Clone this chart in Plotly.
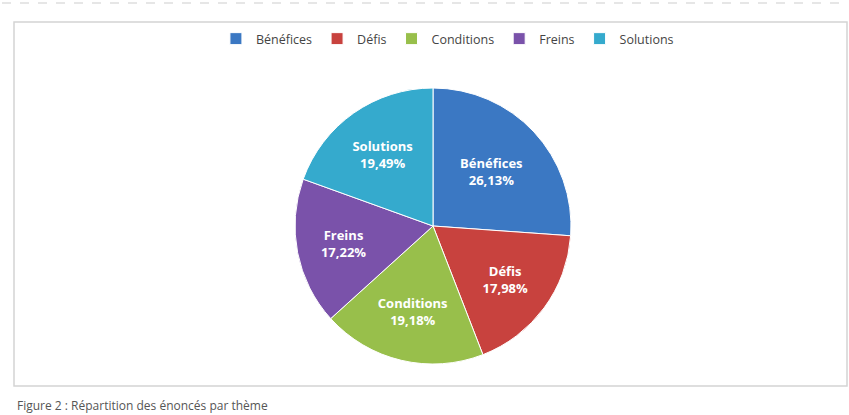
import plotly.graph_objects as go

categories = ["Bénéfices", "Défis", "Conditions", "Freins", "Solutions"]
shares = [26.13, 17.98, 19.18, 17.22, 19.49]
colors = ["#3b78c3", "#c8423e", "#98bf4b", "#7a52aa", "#35aacd"]
caption = "Figure 2 : Répartition des énoncés par thème"

W, H = 849, 415
cx, cy, r = 433, 226, 138

fig = go.Figure(go.Pie(
    labels=categories,
    values=shares,
    sort=False,
    direction="clockwise",
    rotation=0,
    marker=dict(colors=colors, line=dict(color="white", width=1)),
    texttemplate="<b>%{label}<br>%{percent:.2%}</b>",
    textposition="inside",
    insidetextorientation="horizontal",
    textfont=dict(family="Open Sans", size=13, color="white"),
    domain=dict(x=[(cx - r) / W, (cx + r) / W], y=[(H - cy - r) / H, (H - cy + r) / H]),
    hoverinfo="label+percent",
))

fig.update_layout(
    width=W, height=H,
    margin=dict(l=0, r=0, t=0, b=0),
    paper_bgcolor="white",
    separators=", ",
    showlegend=True,
    legend=dict(
        orientation="h", x=0.527, xanchor="center", y=(H - 39) / H, yanchor="middle",
        font=dict(family="Open Sans", size=12.5, color="#444"),
        itemwidth=30, traceorder="normal",
    ),
    shapes=[
        dict(type="rect", xref="paper", yref="paper",
             x0=14 / W, x1=847 / W, y0=(H - 386) / H, y1=(H - 22) / H,
             line=dict(color="#d4d4d4", width=1.5), fillcolor="rgba(0,0,0,0)"),
        dict(type="line", xref="paper", yref="paper",
             x0=2 / W, x1=847 / W, y0=(H - 3) / H, y1=(H - 3) / H,
             line=dict(color="#e6e6e6", width=2, dash="dash")),
    ],
    annotations=[
        dict(text=caption, xref="paper", yref="paper", x=15 / W, y=(H - 405) / H,
             xanchor="left", yanchor="middle", showarrow=False,
             font=dict(family="Open Sans", size=12, color="#555")),
    ],
)

fig.write_html(
    "out.html",
    config={"displayModeBar": False},
    post_script="document.body.style.margin='0';document.body.style.overflow='hidden';",
)
